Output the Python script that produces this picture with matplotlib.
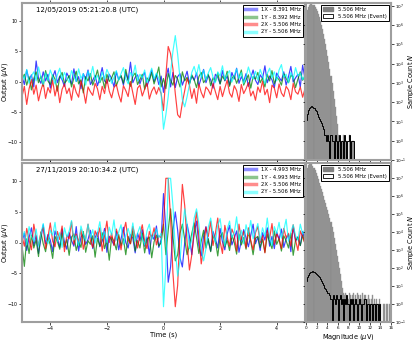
import numpy as np
import matplotlib
matplotlib.use('Agg')
import matplotlib.pyplot as plt
from matplotlib.lines import Line2D
from matplotlib.patches import Patch

# ---------------- data ----------------
time = np.linspace(-5, 5, 121)

titles = ["12/05/2019 05:21:20.8 (UTC)", "27/11/2019 20:10:34.2 (UTC)"]
labels_top = ["1X - 8.391 MHz", "1Y - 8.392 MHz", "2X - 5.506 MHz", "2Y - 5.506 MHz"]
labels_bot = ["1X - 4.993 MHz", "1Y - 4.993 MHz", "2X - 5.506 MHz", "2Y - 5.506 MHz"]
hist_labels = ["5.506 MHz", "5.506 MHz (Event)"]

blue_top = [
    0.8, -0.5, 1.9, 0.2, 1.1, -0.9, 3.4, 0.5, -0.3, 1.6,
    0.1, 1.2, -1.1, 0.7, 1.8, -0.2, 0.9, 0.3, -0.8, 1.4,
    0.6, -0.4, 2.1, 0.0, 0.8, -1.2, 1.3, 0.4, 1.9, -0.5,
    0.2, 1.0, -0.7, 0.6, 2.3, 0.1, -0.3, 1.2, 0.5, -0.9,
    1.6, 0.3, 0.9, -0.6, 1.4, 0.2, 3.2, -0.2, 0.7, 1.1,
    -0.4, 0.8, 1.5, -0.8, 0.4, 1.9, 0.0, 1.2, -0.5, 0.9,
    -1.8, 0.6, 2.2, -0.9, 1.5, -1.0, 0.8, 1.3, -0.6, 0.5,
    1.7, -0.3, 0.9, 0.2, 1.4, -0.7, 0.6, 2.0, -0.2, 1.0,
    0.3, -1.1, 1.2, 0.7, -0.4, 1.8, 0.1, 0.9, -0.6, 1.5,
    0.4, 2.2, -0.3, 0.8, 0.0, 1.3, -0.8, 0.6, 1.9, 0.2,
    -0.5, 1.1, 0.5, 2.6, -0.2, 0.9, 0.3, -1.0, 1.4, 0.7,
    0.1, 1.6, -0.6, 0.8, 2.5, -0.1, 0.6, 1.2, -0.9, 2.7, 0.4]
green_top = [
    0.3, 1.2, -0.6, 0.8, -1.4, 0.5, 1.6, -0.2, 0.9, -0.8,
    1.8, 0.1, -0.5, 1.1, 0.4, -1.6, 0.7, 1.5, -0.3, 0.2,
    1.0, -0.9, 0.6, 1.7, -0.4, 0.3, -1.9, 0.8, 0.1, 1.3,
    -0.6, 0.5, 1.9, -0.2, 0.7, -1.1, 1.2, 0.0, 0.6, 1.6,
    -0.7, 0.4, 1.0, -0.3, 2.0, 0.2, -0.8, 0.9, 1.4, -0.5,
    0.3, 1.2, -1.3, 0.6, 0.1, 1.5, -0.4, 0.8, 2.4, -0.9,
    0.5, -1.2, 1.3, 0.2, -0.6, 1.0, 0.4, -0.9, 1.6, 0.1,
    0.7, -0.5, 1.1, 0.3, -1.0, 0.8, 1.5, -0.2, 0.4, 1.2,
    -0.7, 0.6, 0.0, 1.4, -0.4, 0.9, 0.2, 1.7, -0.8, 0.5,
    1.0, -0.3, 0.7, 1.9, -0.6, 0.3, 1.1, -1.1, 0.8, 0.4,
    1.5, -0.2, 0.6, -0.9, 1.2, 0.1, 1.8, -0.4, 0.7, 0.3,
    -0.6, 1.3, 0.5, -0.2, 1.0, 0.8, -1.0, 0.4, 1.6, 0.2, 0.9]
red_top = [
    -2.5, -0.8, -3.8, -1.2, 0.3, -2.1, -0.6, -3.2, -1.5, -0.2,
    -2.8, -1.0, -1.9, 0.2, -2.4, -0.7, -3.5, -1.3, -0.4, -2.0,
    -1.1, -3.1, -0.5, -1.8, -2.6, 0.1, -1.4, -3.6, -0.9, -1.7,
    -2.3, -0.3, -1.2, -3.0, -0.8, -2.0, 0.4, -1.6, -2.7, -1.0,
    -0.5, -2.2, -3.4, -0.7, -1.5, -2.5, 0.0, -1.9, -3.8, -1.1,
    -0.6, -2.4, -1.3, -0.2, -2.9, -1.6, -0.9, -2.1, -1.0, -2.0,
    -4.8, 1.0, 5.8, 4.6, 2.1, -2.0, -5.5, -6.0, -3.5, -1.5,
    0.5, -0.6, -2.8, -1.2, -3.6, -0.4, -1.8, -2.7, -0.9, -1.4,
    -2.2, -0.3, -1.7, -3.0, -0.8, -2.5, -1.1, 0.2, -1.9, -2.6,
    -0.7, -1.5, -3.3, -0.5, -2.0, -1.2, -0.2, -2.4, -1.6, -3.1,
    -0.9, -1.8, 0.1, -2.2, -1.3, -3.5, -0.6, -1.1, -2.7, -0.4,
    -1.9, -2.5, -0.8, -1.4, -3.0, -0.3, -1.7, -2.1, -0.9, -2.6, -1.2]
cyan_top = [
    1.2, 0.4, 2.0, -0.3, 0.9, 1.6, 0.1, 2.4, 0.7, -0.5,
    1.4, 0.2, 1.9, 0.8, -0.4, 1.1, 2.2, 0.3, 1.5, 0.6,
    -0.2, 1.8, 0.9, 0.0, 2.1, 0.5, 1.3, -0.6, 1.7, 0.8,
    2.5, 0.3, 1.0, -0.1, 1.6, 0.4, 2.0, 1.1, -0.3, 0.7,
    1.8, 0.2, 1.3, 2.3, 0.5, -0.4, 1.5, 0.9, 2.7, 0.1,
    1.2, 0.6, 1.9, -0.2, 1.0, 2.2, 0.4, 1.4, 0.5, -2.0,
    -7.9, -5.5, -2.5, 1.5, 5.0, 7.6, 4.5, 0.5, -3.0, -4.2,
    -2.5, -0.5, 1.5, 2.5, 1.0, 2.8, 0.6, 1.9, 0.2, 1.4,
    2.3, 0.7, -0.2, 1.6, 0.9, 2.6, 0.3, 1.2, 1.8, -0.1,
    1.0, 2.1, 0.5, 1.5, -0.3, 0.8, 2.4, 1.1, 0.4, 1.7,
    0.2, 2.0, 0.9, -0.4, 1.3, 2.2, 0.6, 1.6, 0.1, 1.9,
    2.8, 0.7, 1.2, -0.2, 1.5, 0.4, 2.3, 0.9, 1.4, 0.3, 1.1]

blue_bot = [
    0.2, 1.5, -1.3, 0.8, 2.4, -0.5, 1.1, -1.8, 0.6, 2.9,
    -0.2, 1.3, 0.4, -1.5, 1.9, 0.7, -0.8, 2.2, 0.1, -1.1,
    1.6, 0.3, -0.6, 2.6, -1.4, 0.9, 1.4, -0.3, 0.5, 2.0,
    -1.0, 0.8, 1.7, -0.7, 0.2, 2.3, -1.6, 1.0, 0.4, -0.4,
    1.8, -1.2, 0.6, 2.5, 0.0, -0.9, 1.3, 0.7, -1.7, 1.5,
    0.3, 2.1, -0.6, 0.9, -1.9, 1.2, 0.5, 2.7, -0.8, 0.5,
    8.0, 2.0, -6.5, -4.0, 2.0, 5.0, 2.0, -2.5, -4.0, 0.0,
    3.0, 1.0, -2.0, 1.5, 3.5, -0.5, -2.2, 1.0, 2.6, 0.2,
    -1.4, 1.8, 0.6, -0.9, 2.3, 0.1, -1.2, 1.4, 2.8, -0.4,
    0.7, 1.9, -1.6, 0.3, 2.1, 0.8, -0.7, 1.2, 3.0, -0.2,
    0.9, -1.3, 1.6, 0.4, 2.4, -0.6, 1.0, -1.0, 1.7, 0.5,
    2.2, -0.8, 0.6, 1.3, -1.5, 2.6, 0.2, 0.9, -0.5, 1.8, 0.3]
green_bot = [
    -0.5, -3.9, 0.6, -1.8, 1.2, -0.9, 0.4, -2.3, 1.7, -0.2,
    -1.5, 0.8, -0.4, -2.6, 1.0, 0.2, -1.1, 1.5, -0.7, 0.5,
    -2.1, 0.9, 1.4, -1.3, 0.1, -0.8, 1.8, -1.6, 0.3, -0.3,
    1.1, -2.4, 0.7, -0.6, 1.6, -1.0, 0.4, -2.9, 0.9, 0.2,
    -1.2, 1.3, -0.5, 0.6, -2.0, 1.0, -0.2, 1.9, -1.4, 0.3,
    -0.9, 1.5, -1.7, 0.5, 0.9, -2.5, 0.1, 1.2, -0.6, 0.0,
    3.0, -2.0, 2.0, 5.5, 1.0, -3.0, -2.0, 1.5, 3.0, 0.5,
    -2.0, -0.5, 1.5, 3.2, 0.8, -1.8, 0.2, 2.0, -0.9, 0.6,
    -1.5, 1.1, 0.3, -2.2, 0.9, 1.6, -0.7, 0.4, -1.3, 1.2,
    0.0, -1.9, 1.4, -0.4, 0.8, -1.1, 1.7, 0.2, -2.0, 0.7,
    1.0, -0.8, 0.5, -1.6, 1.3, 0.1, -1.0, 1.9, -0.3, 0.6,
    -1.4, 1.1, 0.3, -0.9, 1.5, -2.1, 0.4, 0.9, -0.5, 1.2, -0.2]
red_bot = [
    1.0, -0.6, 2.3, 0.4, -1.2, 3.0, 0.8, -0.4, 1.6, 2.5,
    -1.0, 0.9, 3.2, 0.2, -0.7, 1.8, 0.5, 2.7, -1.5, 1.2,
    0.6, 3.4, -0.3, 1.4, 0.1, 2.1, -1.1, 0.7, 3.0, 0.3,
    -0.8, 1.9, 0.9, 2.4, -1.4, 1.1, 3.5, 0.0, 1.5, -0.5,
    2.2, 0.8, -1.2, 1.7, 3.3, 0.4, -0.2, 2.6, 1.0, -0.9,
    1.3, 2.9, 0.2, -1.0, 1.8, 0.6, 2.4, -0.4, 1.1, 0.8,
    3.0, 10.5, 10.5, 4.0, -5.0, -10.5, -7.0, 2.0, 9.5, 6.0,
    0.0, -4.5, -2.0, 2.0, 5.0, 1.0, -3.5, -1.0, 2.5, 1.0,
    3.5, -0.5, 1.5, 4.0, 0.2, -1.8, 2.8, 0.9, -0.6, 2.2,
    1.2, -1.4, 3.0, 0.5, 1.8, -0.9, 2.4, 0.3, -1.2, 1.6,
    2.6, 0.0, 1.1, -1.7, 2.0, 0.7, 3.1, -0.3, 1.4, 0.6,
    -1.0, 2.3, 0.8, 1.5, -0.6, 2.9, 0.4, -1.3, 1.9, 0.9, -0.2]
cyan_bot = [
    0.5, 1.8, -0.4, 2.6, 1.0, 0.2, 2.2, -0.6, 1.4, 3.1,
    0.7, -0.2, 2.0, 1.2, 3.3, 0.1, 1.6, -0.8, 2.4, 0.9,
    1.9, 3.6, 0.4, 1.1, -0.5, 2.7, 1.3, 0.3, 3.0, 0.8,
    2.1, -0.1, 1.5, 3.4, 0.6, 1.8, 0.0, 2.5, 1.2, 3.7,
    0.4, 1.7, 2.9, -0.3, 1.0, 2.3, 0.9, 3.2, 0.2, 1.5,
    2.6, 0.7, -0.4, 1.9, 3.0, 0.5, 1.4, 2.2, 0.8, 1.5,
    -10.5, -4.0, 10.5, 10.5, 6.0, -1.0, -5.5, -3.0, 2.0, 5.5,
    3.0, -1.0, 0.5, 4.0, 5.5, 3.0, -1.0, -3.0, -1.0, 2.5,
    4.0, 1.5, 0.0, 2.8, 3.9, 1.0, -0.6, 2.2, 3.5, 0.8,
    1.6, 4.2, 0.4, 2.0, -0.2, 2.9, 1.3, 3.6, 0.6, 1.8,
    3.1, 0.3, 2.4, 1.0, 4.0, 0.9, -0.5, 2.6, 1.5, 3.3,
    0.7, 2.0, 3.8, 0.2, 1.7, 2.9, 1.1, 0.4, 3.0, 1.4, 2.2]

# histogram: bin edges 0..16 step 0.2 (80 bins)
hist_edges = np.arange(0, 16.001, 0.2)
main_top = [
    2.0e6, 5.9e6, 9.1e6, 1.12e7, 1.23e7, 1.26e7, 1.17e7, 1.05e7, 8.7e6, 6.8e6,
    5.1e6, 3.7e6, 2.5e6, 1.66e6, 1.05e6, 6.3e5, 3.5e5, 2.0e5, 1.05e5, 5.4e4,
    2.6e4, 1.2e4, 5.5e3, 2.3e3, 980, 390, 150, 55, 19, 7,
    2, 1, 1, 0, 1, 2, 0, 1, 1, 0, 2, 1, 0, 1, 1] + [0] * 35
event_top = [
    12, 25, 38, 50, 58, 62, 55, 48, 40, 34,
    25, 18, 14, 11, 8, 6, 4, 2, 2, 1,
    2, 1, 0, 2, 1, 1, 0, 2, 1, 0,
    1, 2, 0, 1, 1, 0, 2, 1, 0, 1,
    2, 0, 1, 1, 1] + [0] * 35
main_bot = [
    1.6e7, 3.5e7, 5.2e7, 6.3e7, 6.3e7, 5.8e7, 4.8e7, 3.7e7, 2.8e7, 2.0e7,
    1.26e7, 8.5e6, 5.6e6, 3.7e6, 2.5e6, 1.6e6, 1.0e6, 6.3e5, 4.0e5, 2.5e5,
    1.6e5, 1.0e5, 5.9e4, 3.4e4, 1.9e4, 1.0e4, 4.8e3, 2.2e3, 1.0e3, 480,
    220, 100, 45, 19, 8, 4, 3,
    4, 3, 2, 4, 3, 2, 3, 4, 2, 3,
    2, 4, 3, 2, 3, 2, 4, 2, 3, 1,
    2, 3, 2, 1, 2, 3, 1, 2, 1, 2,
    1, 1, 2, 1, 0, 1, 1, 0, 1, 1,
    0, 1, 0]
event_bot = [
    20, 30, 40, 50, 58, 62, 65, 60, 55, 48,
    42, 36, 30, 26, 20, 15, 11, 8, 7, 5,
    4, 4, 3, 2, 0, 3, 2, 1, 3, 2,
    0, 2, 3, 1, 2, 0, 2, 1, 3, 1,
    0, 2, 1, 2, 0, 1, 2, 1, 0, 1,
    2, 1, 0, 1, 1, 2, 0, 1, 1, 0,
    1, 1, 0, 1, 1, 0, 1, 1, 0, 1] + [0] * 10

# ---------------- styling ----------------
line_colors = ['#0000ff', '#008000', '#ff0000', '#00ffff']
spine_col = '0.62'
W, H = 415, 340

def frac(x0, y0, x1, y1):
    return [x0 / W, 1 - y1 / H, (x1 - x0) / W, (y1 - y0) / H]

fig = plt.figure(figsize=(W / 100, H / 100), dpi=100)
ax_ts = [fig.add_axes(frac(22, 3, 305, 160)), fig.add_axes(frac(22, 163, 305, 322))]
ax_h = [fig.add_axes(frac(306, 3, 391, 160)), fig.add_axes(frac(306, 163, 391, 322))]

series = [[blue_top, green_top, red_top, cyan_top], [blue_bot, green_bot, red_bot, cyan_bot]]
labels = [labels_top, labels_bot]
mains = [main_top, main_bot]
events = [event_top, event_bot]
htops = [1.4e7, 6.8e7]

for k in range(2):
    ax = ax_ts[k]
    for vals, c, lab in zip(series[k], line_colors, labels[k]):
        ax.plot(time, vals, color=c, lw=0.85, alpha=0.75, label=lab)
    ax.set_xlim(-5, 5)
    ax.set_ylim(-13, 13)
    ax.set_xticks([-4, -2, 0, 2, 4])
    ax.set_yticks([-10, -5, 0, 5, 10])
    ax.tick_params(labelsize=3.4, length=2, width=0.5, pad=1.2, top=True, direction='out')
    ax.set_ylabel('Output ($\\mu$V)', fontsize=4.8)
    ax.yaxis.set_label_coords(-0.044, 0.5)
    ax.text(0.05, 0.955, titles[k], transform=ax.transAxes, fontsize=5.0, va='center', ha='left')
    handles = [Line2D([0], [0], color=c, lw=2.5, alpha=0.45) for c in line_colors]
    leg = ax.legend(handles, labels[k], loc='upper right', fontsize=3.8, frameon=True,
                    fancybox=False, edgecolor='k', framealpha=1, borderpad=0.45,
                    handlelength=2.0, handletextpad=0.9, labelspacing=0.45,
                    borderaxespad=0.35)
    leg.get_frame().set_linewidth(0.7)
    for s in ax.spines.values():
        s.set_color(spine_col)
        s.set_linewidth(1.5)
    if k == 0:
        ax.tick_params(labelbottom=False)
    else:
        ax.set_xlabel('Time (s)', fontsize=4.8)
        ax.xaxis.set_label_coords(0.5, -0.06)

    axh = ax_h[k]
    axh.bar(hist_edges[:-1], mains[k], width=0.2, align='edge', color='#8a8a8a',
            edgecolor='#9a9a9a', linewidth=0.3, log=True)
    axh.stairs(events[k], hist_edges, color='k', lw=0.7)
    axh.set_yscale('log')
    axh.set_xlim(0, 16)
    axh.set_ylim(0.1, htops[k])
    axh.set_yticks([10.0 ** p for p in range(-1, 8)])
    axh.yaxis.set_minor_locator(matplotlib.ticker.NullLocator())
    axh.set_xticks(range(0, 17, 2))
    axh.yaxis.tick_right()
    axh.yaxis.set_label_position('right')
    axh.tick_params(labelsize=3.0, length=2, width=0.5, pad=1.2, left=True, direction='out')
    axh.set_ylabel('Sample Count $N$', fontsize=4.8)
    axh.yaxis.set_label_coords(1.18, 0.5)
    hh = [Patch(facecolor='#808080', edgecolor='#808080'), Patch(facecolor='white', edgecolor='k', linewidth=0.6)]
    leg2 = axh.legend(hh, hist_labels, loc='upper right', fontsize=3.8, frameon=True,
                      fancybox=False, edgecolor='k', framealpha=1, borderpad=0.4,
                      handlelength=2.0, handletextpad=0.9, labelspacing=0.3,
                      borderaxespad=0.35)
    leg2.get_frame().set_linewidth(0.7)
    for s in axh.spines.values():
        s.set_color(spine_col)
        s.set_linewidth(1.5)
    if k == 0:
        axh.tick_params(labelbottom=False)
    else:
        axh.set_xlabel('Magnitude ($\\mu$V)', fontsize=4.8)
        axh.xaxis.set_label_coords(0.5, -0.06)

fig.savefig('out.png', dpi=100)
